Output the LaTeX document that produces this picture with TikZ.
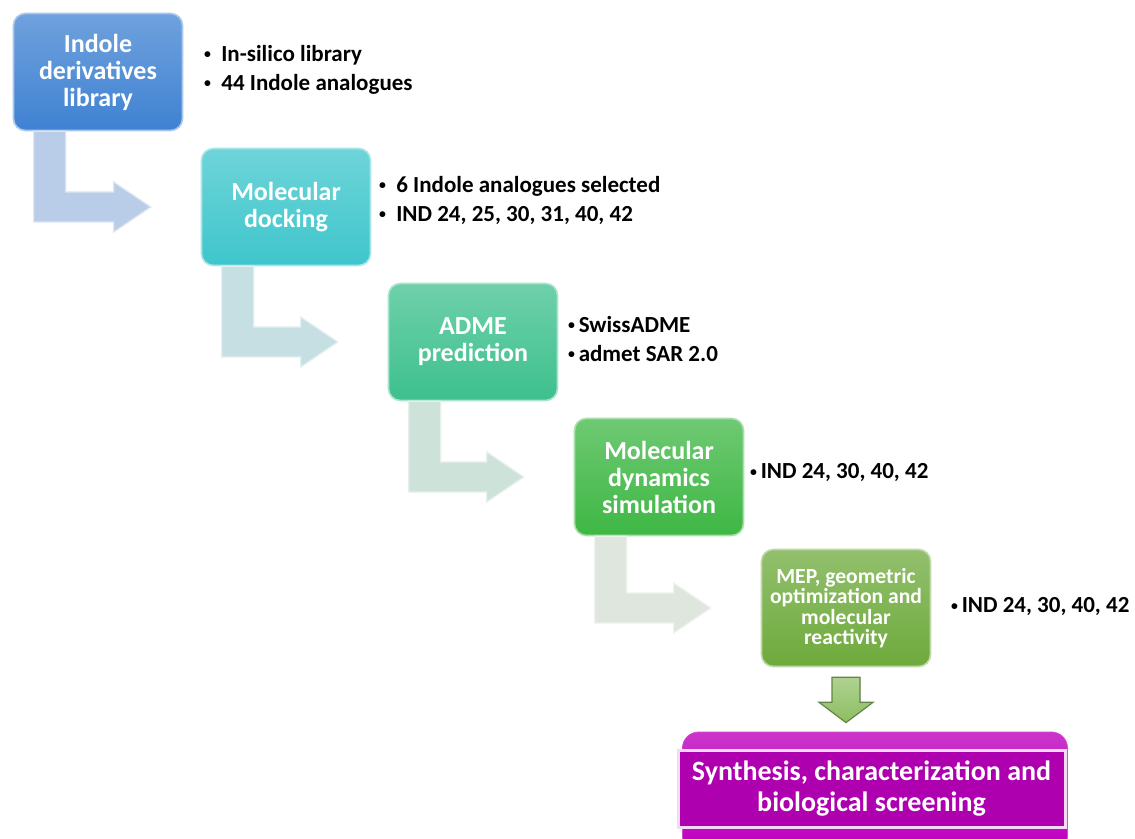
\documentclass[tikz,border=0pt]{standalone}
\usepackage{fontspec}
\setmainfont{Carlito}
\usetikzlibrary{calc,positioning}

\definecolor{boxblue}{HTML}{3F82D2}
\definecolor{boxcyan}{HTML}{3EC6CC}
\definecolor{boxteal}{HTML}{3EC08E}
\definecolor{boxgreen}{HTML}{3EB744}
\definecolor{boxolive}{HTML}{6EAA3C}
\definecolor{boxpink}{HTML}{BE00BE}
\definecolor{arrone}{HTML}{B9CDE8}
\definecolor{arrtwo}{HTML}{C6DFE3}
\definecolor{arrthree}{HTML}{CDE2D9}
\definecolor{arrfour}{HTML}{DEE6DD}
\definecolor{dropgreen}{HTML}{8DBE62}

\newcommand{\bul}{\raisebox{0.12em}{\scalebox{0.6}{•}}}

\begin{document}
\begin{tikzpicture}
  [x=0.5pt, y=-0.5pt,
    stage/.style={
      rounded corners=6pt,
      minimum width=84.5pt, minimum height=58.5pt,
      align=center,
      text=white, font=\bfseries\fontsize{13}{13.5}\selectfont,
      draw=white!55!#1, line width=0.8pt,
      top color=white!25!#1, bottom color=#1
    },
    note/.style={
      anchor=west, align=left,
      font=\bfseries\fontsize{11.5}{14.5}\selectfont
    },
    flow/.style={
      fill=#1, draw=white!50!#1, line width=0.6pt
    }
  ]
  \clip (0,0) rectangle (1135,839);
  \fill[white] (0,0) rectangle (1135,839);

  \node[stage=boxblue] (b1) at (98,72) {Indole\\derivatives\\library};
  \node[stage=boxcyan] (b2) at (286,207) {Molecular\\docking};
  \node[stage=boxteal] (b3) at (473,342) {ADME\\prediction};
  \node[stage=boxgreen] (b4) at (659,477) {Molecular\\dynamics\\simulation};
  \node[stage=boxolive, font=\bfseries\fontsize{10.8}{10.2}\selectfont] (b5) at (846,608)
    {MEP, geometric\\optimization and\\molecular\\reactivity};

  \node[note] (n1) at (197,70) {\bul\ \ In-silico library\\\bul\ \ 44 Indole analogues};
  \node[note] (n2) at (372,200) {\bul\ \ 6 Indole analogues selected\\\bul\ \ IND 24, 25, 30, 31, 40, 42};
  \node[note] (n3) at (561,339) {\bul\,SwissADME\\\bul\,admet SAR 2.0};
  \node[note] (n4) at (743,473) {\bul\,IND 24, 30, 40, 42};
  \node[note] (n5) at (944,607) {\bul\,IND 24, 30, 40, 42};

  \node[rounded corners=8pt, minimum width=192.5pt, minimum height=60pt,
    top color=boxpink!80!white, bottom color=boxpink, draw=boxpink!70!white] (syn) at (875,792) {};
  \node[minimum width=193.5pt, minimum height=38.5pt, align=center,
    fill=boxpink!92!black, draw=white!85!boxpink, line width=1.5pt,
    text=white, font=\bfseries\fontsize{14}{15.5}\selectfont] (synin) at (871.5,788.5)
    {Synthesis, characterization and\\biological screening};

  \filldraw[flow=arrone] ($(b1.south west)+(21,0)$) |- ($(b2.west)+(-87,15)$) -- ++(0,10)
    -- ($(b2.west)+(-50,0)$) -- ++(-37,-25) -- ++(0,10) -| ($(b1.south west)+(53,0)$) -- cycle;
  \filldraw[flow=arrtwo] ($(b2.south west)+(21,0)$) |- ($(b3.west)+(-87,15)$) -- ++(0,10)
    -- ($(b3.west)+(-50,0)$) -- ++(-37,-25) -- ++(0,10) -| ($(b2.south west)+(53,0)$) -- cycle;
  \filldraw[flow=arrthree] ($(b3.south west)+(21,0)$) |- ($(b4.west)+(-87,15)$) -- ++(0,10)
    -- ($(b4.west)+(-50,0)$) -- ++(-37,-25) -- ++(0,10) -| ($(b3.south west)+(53,0)$) -- cycle;
  \filldraw[flow=arrfour] ($(b4.south west)+(21,0)$) |- ($(b5.west)+(-87,15)$) -- ++(0,10)
    -- ($(b5.west)+(-50,0)$) -- ++(-37,-25) -- ++(0,10) -| ($(b4.south west)+(53,0)$) -- cycle;

  \filldraw[top color=dropgreen!70!white, bottom color=dropgreen, draw=dropgreen!70!black, line width=0.6pt]
    ($(b5.south)+(-14,10)$) -- ++(0,25) -- ++(-13,0) -- ($(b5.south |- syn.north)+(0,-9)$)
    -- ($(b5.south)+(27,35)$) -- ++(-13,0) -- ++(0,-25) -- cycle;
\end{tikzpicture}
\end{document}
